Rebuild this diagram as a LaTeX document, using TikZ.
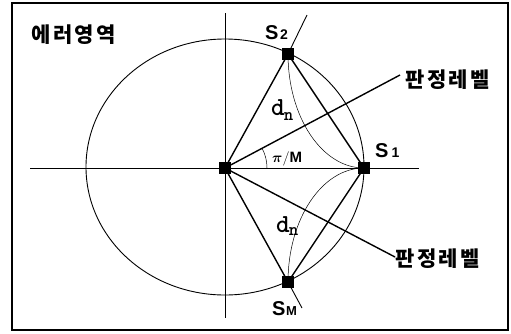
\documentclass[tikz,border=0pt]{standalone}
\usepackage{amsmath}
\usepackage{fontspec}
\setmainfont{Liberation Sans}
\newfontfamily\kor{Noto Sans CJK KR}
\newcommand\kk{\kern2.5pt}
\begin{document}
\begin{tikzpicture}[x=1pt,y=-1pt,
  sq/.style={rectangle,draw,fill=black,minimum size=11pt,inner sep=0pt},
  thickln/.style={line width=1.4pt},
  midln/.style={line width=0.9pt},
  thinln/.style={line width=0.5pt},
  kortxt/.style={font=\kor\bfseries\fontsize{21}{21}\selectfont,inner sep=0pt},
  slabel/.style={inner sep=0pt,anchor=base west,font=\bfseries},
  dlabel/.style={inner sep=0pt,anchor=base west,font=\ttfamily\bfseries}]
\useasboundingbox (0,0) rectangle (511,333);
\draw[line width=1.2pt] (12,3) rectangle (508,330);
% coordinates
\coordinate (xl) at (30,168);
\coordinate (xr) at (419,168);
\coordinate (yt) at (225,13);
\coordinate (yb) at (225,318);
\coordinate (d1) at (400,75);
\coordinate (d2) at (395,257);
\coordinate (t2) at (307,15);
\coordinate (tm) at (302,308);
% axes
\draw[midln] (xl) -- (xr);
\draw[midln] (yt) -- (yb);
% circle
\draw[midln] (225,167) ellipse [x radius=139pt, y radius=128pt];
% points
\node[sq] (O) at (225,168) {};
\node[sq] (S1) at (364,168) {};
\node[sq] (S2) at (288,54) {};
\node[sq] (SM) at (288,282) {};
% triangles
\draw[thickln] (O.center) -- (S2.center) -- (S1.center) -- (SM.center) -- cycle;
% ticks
\draw[midln] (S2.center) -- (t2);
\draw[midln] (SM.center) -- (tm);
% decision lines
\draw[thickln] (O.center) -- (d1);
\draw[thickln] (O.center) -- (d2);
% thin arcs
\draw[thinln] (S2.center) .. controls (288,117) and (322,168) .. (S1.center);
\draw[thinln] (S1.center) .. controls (322,168) and (288,219) .. (SM.center);
% angle arc
\draw[thinln] (O.center) ++(42pt,0pt) arc[start angle=0, end angle=28, radius=42pt];
% labels
\node[kortxt,anchor=west] (L0) at (31,35) {에\kk 러\kk 영\kk 역};
\node[kortxt,anchor=west] (L1) at (405,80) {판\kk 정\kk 레\kk 벨};
\node[kortxt,anchor=west] (L2) at (395,259) {판\kk 정\kk 레\kk 벨};
\node[slabel] (lS2) at (265,39) {\fontsize{20}{20}\selectfont S\kern1.5pt\fontsize{14}{14}\selectfont 2};
\node[slabel] (lS1) at (375,157) {\fontsize{20}{20}\selectfont S\kern3pt\fontsize{14}{14}\selectfont 1};
\node[slabel] (lSM) at (272,315) {\fontsize{20}{20}\selectfont S\kern0.5pt\fontsize{13}{13}\selectfont M};
\node[dlabel] (dn1) at (271,115) {\fontsize{26}{26}\selectfont d\kern-1pt\raisebox{-5pt}{\fontsize{18}{18}\selectfont n}};
\node[dlabel] (dn2) at (276,232) {\fontsize{26}{26}\selectfont d\kern-1pt\raisebox{-3pt}{\fontsize{18}{18}\selectfont n}};
\node[inner sep=0pt,anchor=base west] (ang) at (272,162) {\fontsize{15}{15}\selectfont$\boldsymbol{\pi}/\mathbf{M}$};
\end{tikzpicture}
\end{document}
